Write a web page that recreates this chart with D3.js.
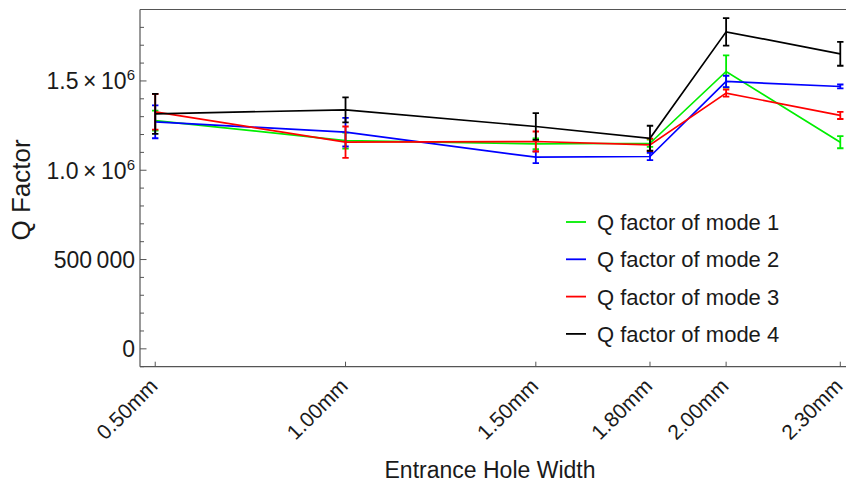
<!DOCTYPE html>
<html>
<head>
<meta charset="utf-8">
<script src="https://cdn.jsdelivr.net/npm/d3@7"></script>
<style>
  html, body { margin: 0; padding: 0; background: #fff; }
  svg { display: block; font-family: "Liberation Sans", Arial, sans-serif; }
</style>
</head>
<body>
<svg id="chart" width="846" height="483"></svg>
<script>
// Entrance hole widths (mm) and their tick labels
const widths = [0.5, 1.0, 1.5, 1.8, 2.0, 2.3];
const widthLabels = ["0.50mm", "1.00mm", "1.50mm", "1.80mm", "2.00mm", "2.30mm"];

// Q factor per mode, with error-bar half-widths
const mode1 = [1278000, 1166000, 1148000, 1151000, 1553000, 1157000];
const mode1Err = [56000, 45000, 30000, 20000, 90000, 34000];
const mode2 = [1271000, 1213000, 1073000, 1077000, 1497000, 1469000];
const mode2Err = [92000, 80000, 33000, 20000, 32000, 11000];
const mode3 = [1327000, 1157000, 1161000, 1142000, 1432000, 1307000];
const mode3Err = [100000, 88000, 56000, 35000, 20000, 20000];
const mode4 = [1316000, 1338000, 1245000, 1179000, 1775000, 1652000];
const mode4Err = [112000, 70000, 75000, 70000, 77000, 67000];

const seriesNames = ["Q factor of mode 1", "Q factor of mode 2", "Q factor of mode 3", "Q factor of mode 4"];
const seriesColors = ["#00ee00", "#0000ff", "#ff0000", "#000000"];

const yMajorTicks = [0, 500000, 1000000, 1500000];

const series = [
  { name: seriesNames[0], color: seriesColors[0], values: mode1, errs: mode1Err },
  { name: seriesNames[1], color: seriesColors[1], values: mode2, errs: mode2Err },
  { name: seriesNames[2], color: seriesColors[2], values: mode3, errs: mode3Err },
  { name: seriesNames[3], color: seriesColors[3], values: mode4, errs: mode4Err }
];

const svg = d3.select("#chart");
const pLeft = 140, pRight = 846, pTop = 9.5, pBottom = 366.7;

const x = d3.scaleLinear().domain([0.46, 2.315]).range([pLeft, pRight]);
const y = d3.scaleLinear().domain([-100000, 1900000]).range([pBottom, pTop]);

const frameColor = "#555";
const textColor = "#1a1a1a";

// frame: left, bottom, top
const frame = svg.append("g").attr("stroke", frameColor).attr("stroke-width", 1.2).attr("fill", "none");
frame.append("line").attr("x1", pLeft).attr("x2", pLeft).attr("y1", pTop).attr("y2", pBottom);
frame.append("line").attr("x1", pLeft).attr("x2", pRight).attr("y1", pBottom).attr("y2", pBottom);
frame.append("line").attr("x1", pLeft).attr("x2", pRight).attr("y1", pTop).attr("y2", pTop);

// y ticks: minor every 100 000, major every 500 000 (drawn inward)
const minorTicks = d3.range(-100000, 1900001, 100000);
svg.append("g").selectAll("line").data(minorTicks).join("line")
  .attr("x1", pLeft).attr("x2", d => pLeft + (yMajorTicks.includes(d) ? 6.5 : 4))
  .attr("y1", d => y(d)).attr("y2", d => y(d))
  .attr("stroke", frameColor).attr("stroke-width", 1);

// y tick labels
const yLab = svg.append("g").attr("fill", textColor).attr("font-size", 23).attr("text-anchor", "end");
yMajorTicks.forEach(v => {
  const t = yLab.append("text").attr("x", pLeft - 5).attr("y", y(v)).attr("dy", "0.36em");
  if (v >= 1000000) {
    t.append("tspan").text(d3.format(".1f")(v / 1e6) + "\u2009\u00d7\u200910");
    t.append("tspan").attr("font-size", 15).attr("dy", "-0.6em").text("6");
  } else if (v === 0) {
    t.text("0");
  } else {
    const s = String(v);
    t.text(s.slice(0, s.length - 3) + "\u2009" + s.slice(-3));
  }
});

// x ticks (inward) and rotated labels
svg.append("g").selectAll("line").data(widths).join("line")
  .attr("x1", d => x(d)).attr("x2", d => x(d))
  .attr("y1", pBottom).attr("y2", pBottom - 5)
  .attr("stroke", frameColor).attr("stroke-width", 1);

svg.append("g").selectAll("text").data(widths).join("text")
  .attr("transform", d => `translate(${x(d) - 7},${pBottom + 10}) rotate(-45)`)
  .attr("text-anchor", "end").attr("dy", "0.72em")
  .attr("font-size", 21).attr("fill", textColor)
  .text((d, i) => widthLabels[i]);

// axis titles
svg.append("text").attr("x", 490).attr("y", 478)
  .attr("text-anchor", "middle").attr("font-size", 23).attr("fill", textColor)
  .text("Entrance Hole Width");
svg.append("text").attr("transform", "translate(30,190) rotate(-90)")
  .attr("text-anchor", "middle").attr("font-size", 26).attr("fill", textColor)
  .text("Q Factor");

// clip data to the plot area
svg.append("clipPath").attr("id", "plot").append("rect")
  .attr("x", pLeft).attr("y", pTop).attr("width", pRight - pLeft).attr("height", pBottom - pTop);
const plot = svg.append("g").attr("clip-path", "url(#plot)");

const line = d3.line().x(d => x(d[0])).y(d => y(d[1]));

series.forEach(s => {
  const g = plot.append("g");
  const pts = widths.map((w, i) => [w, s.values[i], s.errs[i]]);
  g.append("path").datum(pts).attr("d", line)
    .attr("fill", "none").attr("stroke", s.color).attr("stroke-width", 1.7);
  const eb = g.append("g").attr("stroke", s.color).attr("stroke-width", 1.8);
  eb.append("g").selectAll("line").data(pts).join("line")
    .attr("x1", d => x(d[0])).attr("x2", d => x(d[0]))
    .attr("y1", d => y(d[1] - d[2])).attr("y2", d => y(d[1] + d[2]));
  [1, -1].forEach(sign => {
    eb.append("g").selectAll("line").data(pts).join("line")
      .attr("x1", d => x(d[0]) - 3.2).attr("x2", d => x(d[0]) + 3.2)
      .attr("y1", d => y(d[1] + sign * d[2]))
      .attr("y2", d => y(d[1] + sign * d[2]));
  });
});

// legend
const legend = svg.append("g");
series.forEach((s, i) => {
  const ly = 222 + i * 37.3;
  legend.append("line").attr("x1", 566).attr("x2", 586).attr("y1", ly).attr("y2", ly)
    .attr("stroke", s.color).attr("stroke-width", 1.8);
  legend.append("text").attr("x", 597).attr("y", ly).attr("dy", "0.36em")
    .attr("font-size", 22).attr("fill", textColor).text(s.name);
});
</script>
</body>
</html>
